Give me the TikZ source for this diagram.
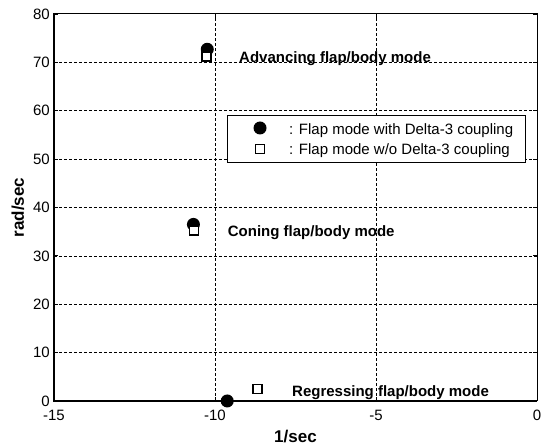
\documentclass[tikz,border=0pt]{standalone}
\usepackage{fontspec}
\setmainfont{Liberation Sans}
\usetikzlibrary{positioning}

\begin{document}
\begin{tikzpicture}[x=32.2pt, y=4.8375pt,
  every node/.style={font=\fontsize{15}{18}\selectfont, inner sep=0pt},
  gridline/.style={dash pattern=on 3pt off 2pt, line width=0.7pt},
  modelabel/.style={font=\fontsize{15}{18}\selectfont\bfseries, anchor=base west},
  axtitle/.style={font=\fontsize{17}{20}\selectfont\bfseries},
  withdelta/.style={circle, fill=black, minimum size=13pt},
  nodelta/.style={rectangle, draw=black, fill=white, line width=1.8pt, minimum size=9pt}]
\useasboundingbox (-16.677,-9.30) rectangle (0.124,82.89);
% grid
\foreach \gx in {-10,-5} {
  \draw[gridline] (\gx,0) -- (\gx,80);
}
\foreach \gy in {10,20,...,70} {
  \draw[gridline] (-15,\gy) -- (0,\gy);
}
% ticks and tick labels
\foreach \gy in {0,10,...,80} {
  \draw[line width=0.8pt] (-15,\gy) -- ++(4pt,0);
  \draw[line width=0.8pt] (0,\gy) -- ++(-4pt,0);
  \node[anchor=east, xshift=-4pt] (ylab\gy) at (-15,\gy) {\gy};
}
\foreach \gx [count=\i] in {-15,-10,-5,0} {
  \draw[line width=0.8pt] (\gx,0) -- ++(0,4pt);
  \draw[line width=0.8pt] (\gx,80) -- ++(0,-4pt);
  \node[anchor=north, yshift=-9pt] (xlab\i) at (\gx,0) {\gx};
}
% frame
\draw[line width=1pt] (-15,0) rectangle (0,80);
\draw[line width=1.6pt] (-15,80) -- (-15,0) -- (0,0);
% data
\node[withdelta] (advwith) at (-10.24,72.7) {};
\node[nodelta] (advwo) at (-10.26,71.2) {};
\node[withdelta] (conwith) at (-10.67,36.5) {};
\node[nodelta] (conwo) at (-10.65,35.2) {};
\node[withdelta] (regwith) at (-9.62,0) {};
\node[nodelta] (regwo) at (-8.69,2.48) {};
% mode labels
\node[modelabel] (advlabel) at (-9.255,69.87) {Advancing flap/body mode};
\node[modelabel] (conlabel) at (-9.606,34.1) {Coning flap/body mode};
\node[modelabel] (reglabel) at (-7.609,1.03) {Regressing flap/body mode};
% legend
\draw[fill=white, line width=0.9pt] (-9.627,49.41) rectangle (-0.373,59.12);
\node[withdelta] (keywith) at (-8.602,56.43) {};
\node[nodelta] (keywo) at (-8.602,52.09) {};
\node[anchor=base west] (keywithtext) at (-7.702,55.13) {: Flap mode with Delta-3 coupling};
\node[anchor=base west] (keywotext) at (-7.702,50.85) {: Flap mode w/o Delta-3 coupling};
% axis titles
\node[axtitle] (xtitle) at (-7.5,-7.44) {1/sec};
\node[axtitle, rotate=90] (ytitle) at (-16.12,40) {rad/sec};
\end{tikzpicture}
\end{document}
